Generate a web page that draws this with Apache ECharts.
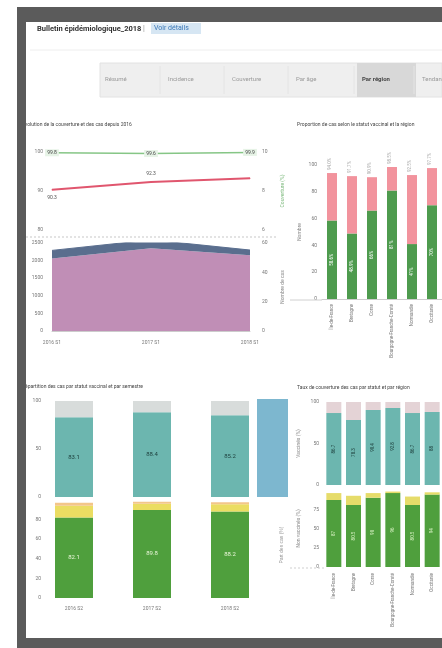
<!DOCTYPE html>
<html><head><meta charset="utf-8">
<script src="https://cdn.jsdelivr.net/npm/echarts@6/dist/echarts.min.js"></script>
<style>html,body{margin:0;padding:0;background:#fff}#c{width:442px;height:648px}</style>
</head><body><div id="c"></div>
<script>
// ---- data ----
const lineCats = ['2016 S1', '2017 S1', '2018 S1'];
const couvGreen = [99.8, 99.6, 99.9];
const couvRed = [90.3, 92.3, 93.3];
const casMauve = [2060, 2350, 2150];
const casBleu = [230, 240, 150];

const regions = ['Île-de-France', 'Bretagne', 'Corse', 'Bourgogne-Franche-Comté', 'Normandie', 'Occitanie'];
const regVert = [58.6, 48.9, 66.0, 81.0, 41.0, 70.0];
const regRose = [35.4, 42.8, 24.9, 17.5, 51.5, 27.7];

const semCats = ['2016 S2', '2017 S2', '2018 S2'];
const semTeal = [83.1, 88.4, 85.2];
const semGris = [16.9, 11.6, 14.8];
const semVert = [82.1, 89.8, 88.2];
const semJaune = [12.0, 6.5, 7.5];
const semOrange = [3.0, 2.0, 2.0];

const trTeal = [86.7, 78.3, 90.4, 92.8, 86.7, 88.0];
const trHaut = [13.3, 21.7, 9.6, 7.2, 13.3, 12.0];
const trVert = [87.0, 80.5, 90.0, 96.0, 80.5, 94.0];
const trJaune = [9.0, 12.0, 6.0, 2.0, 11.0, 3.0];

const tabs = ['Résumé', 'Incidence', 'Couverture', 'Par âge', 'Par région', 'Tendances'];

// ---- chart ----
const chart = echarts.init(document.getElementById('c'), null, {renderer: 'canvas'});
const FS = 5;
const lab = {fontSize: FS, color: '#777', fontFamily: 'Roboto'};
const noSplit = {show: false};
const axLine = {lineStyle: {color: '#ccc'}};
const plain = function (v) { return String(v); };

function yAx(grid, min, max, interval, extra) {
  return Object.assign({
    type: 'value', gridIndex: grid, min: min, max: max, interval: interval,
    splitLine: noSplit, axisLine: {show: false}, axisTick: {show: false},
    axisLabel: Object.assign({margin: 5, formatter: plain}, lab),
    nameTextStyle: {fontSize: FS, color: '#888'}
  }, extra || {});
}

const tabX = [105, 168, 232, 296, 362, 422];
const graphics = [];
// frame
graphics.push({type: 'rect', shape: {x: 17, y: 7, width: 425, height: 15}, style: {fill: '#5b5b5b'}, z: 100});
graphics.push({type: 'rect', shape: {x: 17, y: 7, width: 9, height: 641}, style: {fill: '#5b5b5b'}, z: 100});
graphics.push({type: 'rect', shape: {x: 17, y: 638, width: 425, height: 10}, style: {fill: '#5b5b5b'}, z: 100});
// header
graphics.push({type: 'text', x: 37, y: 25, style: {text: 'Bulletin épidémiologique_2018', fontSize: 7.5, fontWeight: 'bold', fill: '#333', fontFamily: 'Roboto'}, z: 50});
graphics.push({type: 'text', x: 143, y: 25, style: {text: '|', fontSize: 7, fill: '#999'}, z: 50});
graphics.push({type: 'rect', shape: {x: 151, y: 23, width: 50, height: 11}, style: {fill: '#d6e6f3'}, z: 49});
graphics.push({type: 'text', x: 154, y: 25, style: {text: 'Voir détails', fontSize: 7, fill: '#3a78b8', fontFamily: 'Roboto'}, z: 50});
graphics.push({type: 'line', shape: {x1: 30, y1: 50, x2: 442, y2: 50}, style: {stroke: '#eeeeee', lineWidth: 1}, z: 50});
// tabs
graphics.push({type: 'rect', shape: {x: 100, y: 63, width: 342, height: 34}, style: {fill: '#efefef', stroke: '#e2e2e2'}, z: 40});
graphics.push({type: 'rect', shape: {x: 357, y: 63, width: 59, height: 34}, style: {fill: '#d8d8d8'}, z: 41});
tabs.forEach(function (t, i) {
  graphics.push({type: 'text', x: tabX[i], y: 76, style: {text: t, fontSize: 6, fill: i === 4 ? '#444' : '#999', fontWeight: i === 4 ? 'bold' : 'normal', fontFamily: 'Roboto'}, z: 50});
  if (i > 0) graphics.push({type: 'line', shape: {x1: tabX[i] - 8, y1: 66, x2: tabX[i] - 8, y2: 94}, style: {stroke: '#e4e4e4'}, z: 42});
});
// panel titles
graphics.push({type: 'text', x: 22, y: 122, style: {text: 'Évolution de la couverture et des cas depuis 2016', fontSize: FS, fill: '#444', fontFamily: 'Roboto'}, z: 50});
graphics.push({type: 'text', x: 297, y: 122, style: {text: 'Proportion de cas selon le statut vaccinal et la région', fontSize: FS, fill: '#444', fontFamily: 'Roboto'}, z: 50});
graphics.push({type: 'text', x: 22, y: 384, style: {text: 'Répartition des cas par statut vaccinal et par semestre', fontSize: FS, fill: '#444', fontFamily: 'Roboto'}, z: 50});
graphics.push({type: 'text', x: 297, y: 385, style: {text: 'Taux de couverture des cas par statut et par région', fontSize: FS, fill: '#444', fontFamily: 'Roboto'}, z: 50});
// dashed separator
graphics.push({type: 'line', shape: {x1: 22, y1: 237, x2: 276, y2: 237}, style: {stroke: '#c8c8c8', lineDash: [2, 2]}, z: 50});
graphics.push({type: 'line', shape: {x1: 290, y1: 300, x2: 322, y2: 300}, style: {stroke: '#d0d0d0'}, z: 50});
graphics.push({type: 'line', shape: {x1: 290, y1: 568, x2: 324, y2: 568}, style: {stroke: '#d0d0d0', lineDash: [2, 2]}, z: 50});
// side panel (blue block)
graphics.push({type: 'rect', shape: {x: 257, y: 399, width: 31, height: 98}, style: {fill: '#7db7cf'}, z: 10});
graphics.push({type: 'text', x: 282, y: 545, rotation: Math.PI / 2, style: {text: 'Part des cas (%)', fontSize: FS, fill: '#999', align: 'center', verticalAlign: 'middle'}, z: 50});

const option = {
  backgroundColor: '#ffffff',
  animation: false,
  textStyle: {fontFamily: 'Roboto'},
  graphic: graphics,
  grid: [
    {left: 52, top: 152, width: 198, height: 78},
    {left: 52, top: 243, width: 198, height: 88},
    {left: 322, top: 165, width: 132, height: 134},
    {left: 35, top: 401, width: 234, height: 96},
    {left: 35, top: 500, width: 234, height: 98},
    {left: 324, top: 402, width: 129, height: 83},
    {left: 324, top: 490, width: 129, height: 77}
  ],
  xAxis: [
    {type: 'category', gridIndex: 0, data: lineCats, boundaryGap: false, axisLabel: {show: false}, axisTick: {show: false}, axisLine: {show: false}},
    {type: 'category', gridIndex: 1, data: lineCats, boundaryGap: false, axisLabel: Object.assign({margin: 9}, lab), axisTick: {show: false}, axisLine: axLine},
    {type: 'category', gridIndex: 2, data: regions, axisLabel: Object.assign({rotate: 90, margin: 5}, lab, {fontSize: 4.5}), axisTick: {show: false}, axisLine: axLine},
    {type: 'category', gridIndex: 3, data: semCats, axisLabel: {show: false}, axisTick: {show: false}, axisLine: {show: false}},
    {type: 'category', gridIndex: 4, data: semCats, axisLabel: Object.assign({margin: 8}, lab), axisTick: {show: false}, axisLine: {show: false}},
    {type: 'category', gridIndex: 5, data: regions, axisLabel: {show: false}, axisTick: {show: false}, axisLine: {show: false}},
    {type: 'category', gridIndex: 6, data: regions, axisLabel: Object.assign({rotate: 90, margin: 6}, lab, {fontSize: 4.5}), axisTick: {show: false}, axisLine: {show: false}}
  ],
  yAxis: [
    yAx(0, 80, 100, 10, {axisLabel: Object.assign({margin: 9, formatter: plain}, lab)}),
    yAx(0, 6, 10, 2, {position: 'right', name: 'Couverture (%)', nameLocation: 'middle', nameGap: 30,
      axisLabel: Object.assign({margin: 12, formatter: plain}, lab), nameTextStyle: {fontSize: FS, color: '#7ab87a'}}),
    yAx(1, 0, 2500, 500, {axisLabel: Object.assign({margin: 9, formatter: plain}, lab)}),
    yAx(1, 0, 60, 20, {position: 'right', name: 'Nombre de cas', nameLocation: 'middle', nameGap: 30,
      axisLabel: Object.assign({margin: 12, formatter: plain}, lab)}),
    yAx(2, 0, 100, 20, {name: 'Nombre', nameLocation: 'middle', nameGap: 20}),
    yAx(3, 0, 100, 50, {axisLabel: Object.assign({margin: -6, formatter: plain}, lab)}),
    yAx(4, 0, 100, 20, {axisLabel: Object.assign({margin: -6, showMaxLabel: false, formatter: plain}, lab)}),
    yAx(5, 0, 100, 50, {name: 'Vaccinés (%)', nameLocation: 'middle', nameGap: 23}),
    yAx(6, 0, 100, 25, {name: 'Non vaccinés (%)', nameLocation: 'middle', nameGap: 23, axisLabel: Object.assign({margin: 5, showMaxLabel: false, formatter: plain}, lab)})
  ],
  series: [
    {type: 'line', xAxisIndex: 0, yAxisIndex: 0, data: couvGreen, symbol: 'circle', symbolSize: 1, showSymbol: true, clip: false,
      lineStyle: {color: '#86c686', width: 1.5}, itemStyle: {color: '#86c686'},
      label: {show: true, position: 'inside', fontSize: FS, color: '#444', backgroundColor: '#e6f3e6', padding: [1, 2]}},
    {type: 'line', xAxisIndex: 0, yAxisIndex: 0, symbol: 'circle', symbolSize: 1, showSymbol: true,
      data: couvRed.map(function (v, i) { return {value: v, label: {show: i < 2, position: i === 0 ? 'bottom' : 'top'}}; }),
      lineStyle: {color: '#e0566e', width: 2}, itemStyle: {color: '#e0566e'},
      label: {fontSize: FS, color: '#555', distance: 5}},
    {type: 'line', xAxisIndex: 1, yAxisIndex: 2, stack: 'cas', data: casMauve, symbol: 'none',
      lineStyle: {width: 0}, areaStyle: {color: '#c08eb6', opacity: 1}},
    {type: 'line', xAxisIndex: 1, yAxisIndex: 2, stack: 'cas', data: casBleu, symbol: 'none',
      lineStyle: {width: 1, color: '#5a6e8e'}, areaStyle: {color: '#5a6e8e', opacity: 1}},

    {type: 'bar', xAxisIndex: 2, yAxisIndex: 4, stack: 'reg', data: regVert, barWidth: 10,
      itemStyle: {color: '#4e9b4e'},
      label: {show: true, position: 'inside', rotate: 90, fontSize: 4.5, color: '#fff', formatter: '{c}%'}},
    {type: 'bar', xAxisIndex: 2, yAxisIndex: 4, stack: 'reg', data: regRose, barWidth: 10,
      itemStyle: {color: '#f2939d'},
      label: {show: true, position: 'top', rotate: 90, align: 'left', distance: 3, fontSize: 4.5, color: '#aaa',
        formatter: function (p) { return (regVert[p.dataIndex] + regRose[p.dataIndex]).toFixed(1) + '%'; }}},

    {type: 'bar', xAxisIndex: 3, yAxisIndex: 5, stack: 's1', data: semTeal, barWidth: 38,
      itemStyle: {color: '#6cb6af'},
      label: {show: true, position: 'inside', fontSize: 6, color: '#1d3f3c', formatter: '{c}'}},
    {type: 'bar', xAxisIndex: 3, yAxisIndex: 5, stack: 's1', data: semGris, barWidth: 38,
      itemStyle: {color: '#d8dcdb'}},
    {type: 'bar', xAxisIndex: 4, yAxisIndex: 6, stack: 's2', data: semVert, barWidth: 38,
      itemStyle: {color: '#4f9f3d'},
      label: {show: true, position: 'inside', fontSize: 6, color: '#e9f6d8', formatter: '{c}'}},
    {type: 'bar', xAxisIndex: 4, yAxisIndex: 6, stack: 's2', data: semJaune, barWidth: 38,
      itemStyle: {color: '#ebdd62'}},
    {type: 'bar', xAxisIndex: 4, yAxisIndex: 6, stack: 's2', data: semOrange, barWidth: 38,
      itemStyle: {color: '#f3c68a'}},

    {type: 'bar', xAxisIndex: 5, yAxisIndex: 7, stack: 't1', data: trTeal, barWidth: 15,
      itemStyle: {color: '#6cb6af'},
      label: {show: true, position: 'inside', rotate: 90, fontSize: 4.5, color: '#1d3f3c', formatter: '{c}'}},
    {type: 'bar', xAxisIndex: 5, yAxisIndex: 7, stack: 't1', data: trHaut, barWidth: 15,
      itemStyle: {color: '#e4d3d6'}},
    {type: 'bar', xAxisIndex: 6, yAxisIndex: 8, stack: 't2', data: trVert, barWidth: 15,
      itemStyle: {color: '#4f9f3d'},
      label: {show: true, position: 'inside', rotate: 90, fontSize: 4.5, color: '#d9f2c4', formatter: '{c}'}},
    {type: 'bar', xAxisIndex: 6, yAxisIndex: 8, stack: 't2', data: trJaune, barWidth: 15,
      itemStyle: {color: '#e6dc6a'}}
  ]
};
chart.setOption(option);
</script></body></html>
